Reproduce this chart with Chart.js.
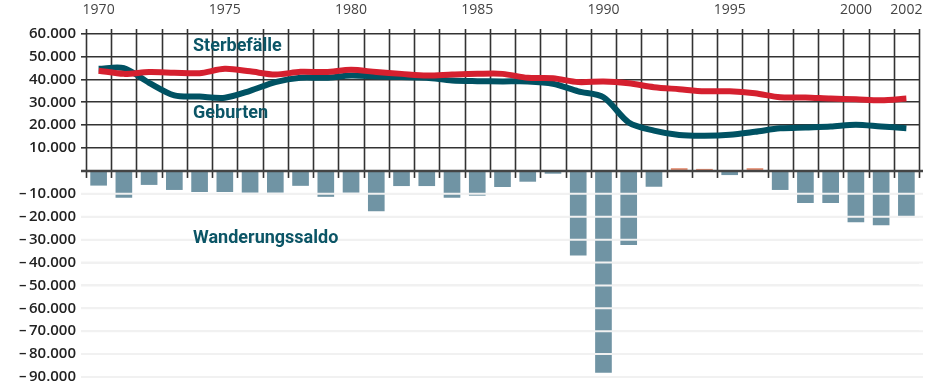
<!DOCTYPE html>
<html lang="de">
<head>
<meta charset="utf-8">
<title>Bevölkerungsbewegung 1970–2002</title>
<script src="https://cdn.jsdelivr.net/npm/chart.js@4"></script>
<style>
  html, body { margin: 0; padding: 0; background: #fff; }
  #wrap { width: 932px; height: 382px; position: relative; }
</style>
</head>
<body>
<div id="wrap"><canvas id="bevChart"></canvas></div>
<script>
const years = ['1970', '1971', '1972', '1973', '1974', '1975', '1976', '1977', '1978', '1979',
  '1980', '1981', '1982', '1983', '1984', '1985', '1986', '1987', '1988', '1989',
  '1990', '1991', '1992', '1993', '1994', '1995', '1996', '1997', '1998', '1999',
  '2000', '2001', '2002'];

// Years that get a label on the top axis
const labelYears = ['1970', '1975', '1980', '1985', '1990', '1995', '2000', '2002'];

const geburten = [44600, 44900, 38500, 33000, 32500, 32000, 35000, 38800, 40700, 40700,
  41700, 41300, 41000, 40700, 39500, 39200, 39100, 39100, 38100, 34800,
  32200, 21200, 17600, 15700, 15400, 15800, 17100, 18600, 19000, 19400,
  20200, 19400, 18700];

const sterbefaelle = [43800, 42400, 43200, 42900, 42700, 44600, 43500, 42100, 43300, 43200,
  44200, 43200, 42400, 41700, 42100, 42400, 42400, 40700, 40500, 38800,
  39100, 38300, 36600, 35700, 34800, 34800, 33900, 32200, 32100, 31600,
  31300, 30900, 31600];

const wanderungssaldo = [-6400, -11700, -6100, -8300, -9200, -9200, -9500, -9500, -6500, -11300,
  -9500, -17600, -6600, -6600, -11700, -10800, -7000, -4700, -1200, -36900,
  -88100, -32300, -6900, 1200, 900, -1800, 1200, -8300, -14000, -14000,
  -22400, -23700, -19800];

const yTicks = [60000, 50000, 40000, 30000, 20000, 10000, 0, -10000, -20000, -30000,
  -40000, -50000, -60000, -70000, -80000, -90000];

// Series labels inside the plot: [text, category index, value]
const seriesLabels = [
  ['Sterbefälle', 3.74, 54500],
  ['Geburten', 3.74, 25200],
  ['Wanderungssaldo', 3.74, -29500]
];

const GRID_DARK = '#333';
const GRID_LIGHT = '#f1f1f1';
const TEAL = '#0b5566';

function formatTick(v) {
  if (v === 0) return '';
  const s = Math.abs(v).toLocaleString('de-DE');
  return v < 0 ? '\u2013\u2009' + s : s;
}

// Black grid in the upper half: one vertical line per year boundary
const yearGrid = {
  id: 'yearGrid',
  beforeDatasetsDraw(chart) {
    const { ctx, chartArea, scales } = chart;
    const x = scales.x, y = scales.y;
    const zero = y.getPixelForValue(0);
    ctx.save();
    ctx.strokeStyle = GRID_DARK;
    ctx.lineWidth = 1.6;
    for (let i = 0; i <= years.length; i++) {
      const px = Math.round(x.getPixelForValue(i - 0.5)) + 0.5;
      ctx.beginPath();
      ctx.moveTo(px, chartArea.top);
      ctx.lineTo(px, zero + 7);
      ctx.stroke();
    }
    ctx.restore();
  },
  afterDatasetsDraw(chart) {
    const { ctx, chartArea, scales } = chart;
    const y = scales.y;
    ctx.save();
    // light lines run across the bars in the lower half
    ctx.strokeStyle = GRID_LIGHT;
    ctx.lineWidth = 2;
    yTicks.filter(v => v < 0).forEach(v => {
      const py = y.getPixelForValue(v);
      ctx.beginPath();
      ctx.moveTo(chartArea.left - 5, py);
      ctx.lineTo(chartArea.right + 4, py);
      ctx.stroke();
    });
    // zero line on top
    const zero = y.getPixelForValue(0);
    ctx.strokeStyle = '#444';
    ctx.lineWidth = 2.5;
    ctx.beginPath();
    ctx.moveTo(chartArea.left - 5, zero);
    ctx.lineTo(chartArea.right + 4, zero);
    ctx.stroke();
    ctx.restore();
  },
  afterDraw(chart) {
    const { ctx, scales } = chart;
    ctx.save();
    ctx.fillStyle = TEAL;
    ctx.font = 'bold 18px Roboto';
    ctx.textAlign = 'left';
    ctx.textBaseline = 'middle';
    seriesLabels.forEach(([text, idx, val]) => {
      ctx.fillText(text, scales.x.getPixelForValue(idx), scales.y.getPixelForValue(val));
    });
    ctx.restore();
  }
};

new Chart(document.getElementById('bevChart'), {
  data: {
    labels: years,
    datasets: [
      {
        type: 'line',
        label: 'Sterbefälle',
        data: sterbefaelle,
        borderColor: '#d5202f',
        borderWidth: 6,
        pointRadius: 0,
        tension: 0.3,
        borderJoinStyle: 'round',
        order: 1
      },
      {
        type: 'line',
        label: 'Geburten',
        data: geburten,
        borderColor: '#005263',
        borderWidth: 6,
        pointRadius: 0,
        tension: 0.3,
        borderJoinStyle: 'round',
        order: 2
      },
      {
        type: 'bar',
        label: 'Wanderungssaldo',
        data: wanderungssaldo,
        backgroundColor: wanderungssaldo.map(v => v < 0 ? '#7094a4' : '#e3896c'),
        barPercentage: 0.66,
        categoryPercentage: 1,
        order: 3
      }
    ]
  },
  options: {
    responsive: true,
    maintainAspectRatio: false,
    animation: false,
    layout: {
      padding: { top: 1, right: 13, bottom: 5, left: 0 }
    },
    plugins: {
      legend: { display: false },
      tooltip: { enabled: false }
    },
    scales: {
      x: {
        position: 'top',
        offset: true,
        grid: { display: false },
        border: { display: false },
        ticks: {
          autoSkip: false,
          maxRotation: 0,
          padding: 3,
          color: '#444',
          font: { family: 'Open Sans', size: 14 },
          callback: function(value) {
            const yr = this.getLabelForValue(value);
            return labelYears.includes(yr) ? yr : '';
          }
        },
        afterFit: scale => { scale.height = 28; }
      },
      y: {
        min: -90000,
        max: 62000,
        border: { display: false },
        grid: {
          color: ctx => ctx.tick && ctx.tick.value > 0 ? GRID_DARK : GRID_LIGHT,
          lineWidth: ctx => ctx.tick && ctx.tick.value > 0 ? 1.6 : 2,
          tickLength: 5
        },
        ticks: {
          autoSkip: false,
          padding: 5,
          color: '#222',
          font: { family: 'Open Sans', size: 15, weight: '600' },
          callback: v => formatTick(v)
        },
        afterBuildTicks: scale => {
          scale.ticks = yTicks.map(v => ({ value: v }));
        },
        afterFit: scale => {
          scale.width = 86;
          scale.paddingTop = 0;
          scale.paddingBottom = 0;
        }
      }
    }
  },
  plugins: [yearGrid]
});
</script>
</body>
</html>
